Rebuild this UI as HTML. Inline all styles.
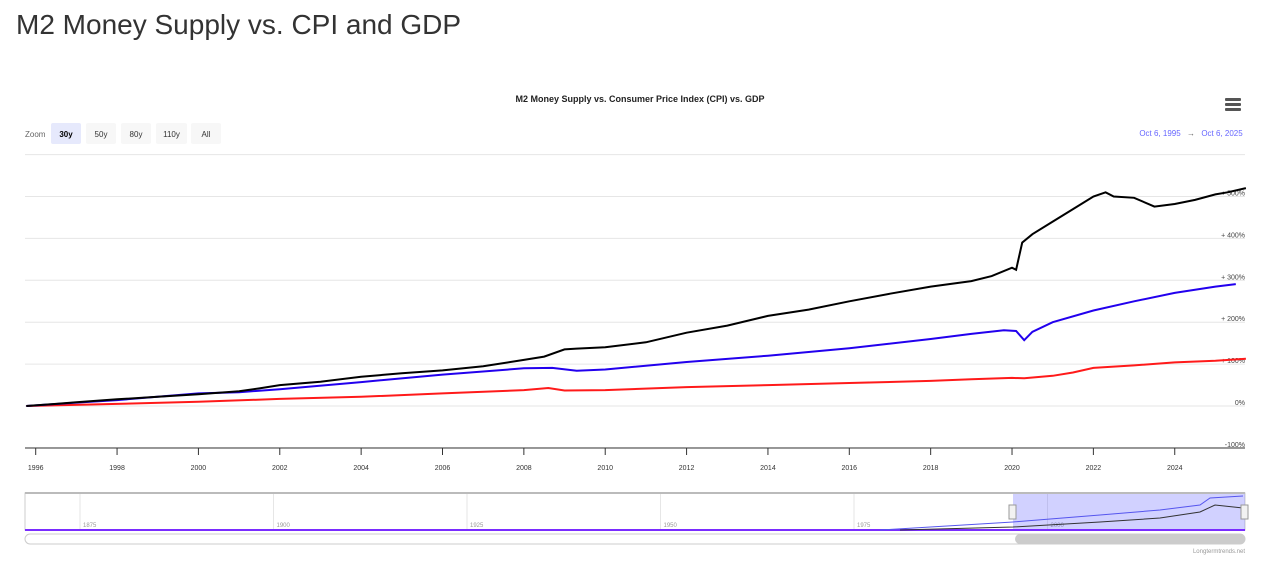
<!DOCTYPE html>
<html><head><meta charset="utf-8">
<style>
body{margin:0;background:#fff;font-family:"Liberation Sans",sans-serif;}
h1{position:absolute;left:16px;top:9px;margin:0;font-size:28px;font-weight:normal;color:#333;}
</style></head>
<body>
<h1>M2 Money Supply vs. CPI and GDP</h1>
<svg id="c" width="1280" height="571" style="position:absolute;left:0;top:0"></svg>
<script>
const blackYears=[1995.77,1996.5,1997,1998,1999,2000,2001,2001.5,2002,2003,2004,2005,2006,2007,2008,2008.5,2009,2009.3,2010,2011,2012,2013,2014,2015,2016,2017,2018,2019,2019.5,2020.0,2020.1,2020.25,2020.5,2021,2021.5,2022,2022.3,2022.5,2023,2023.5,2024,2024.5,2025,2025.3,2025.75];
const blackVals=[0,5,9,16,22,28,35,42,50,58,70,78,85,95,110,118,135,137,140,152,175,192,215,230,250,268,285,298,310,330,325,390,410,440,470,500,510,500,497,476,482,492,505,510,520];
const blueYears=[1995.77,1997,1998,2000,2001,2002,2004,2006,2008,2008.7,2009.3,2010,2012,2014,2016,2018,2019,2019.8,2020.1,2020.3,2020.5,2021,2022,2023,2024,2025,2025.5];
const blueVals=[0,8,14,30,33,40,57,75,90,91,84,87,105,120,138,160,172,181,179,157,177,200,228,250,270,285,291];
const redYears=[1995.77,1998,2000,2002,2004,2006,2008,2008.6,2009,2010,2012,2014,2016,2018,2019,2020,2020.3,2021,2021.5,2022,2023,2024,2025,2025.75];
const redVals=[0,5,10,17,22,30,38,43,37,38,45,50,55,60,64,67,66,72,80,91,97,104,108,113];
const yTicks=[-100,0,100,200,300,400,500,600];
const yLabels=["-100%","0%","+ 100%","+ 200%","+ 300%","+ 400%","+ 500%",""];
const xTicks=[1996,1998,2000,2002,2004,2006,2008,2010,2012,2014,2016,2018,2020,2022,2024];
const navTicks=[1875,1900,1925,1950,1975,2000];

const NS="http://www.w3.org/2000/svg",svg=document.getElementById('c');
function el(t,a,p){const e=document.createElementNS(NS,t);for(const k in a)e.setAttribute(k,a[k]);(p||svg).appendChild(e);return e;}
const xs=y=>35.7+(y-1996)*40.68, ys=v=>406-v*0.419;
function txt(x,y,s,a){const e=el('text',Object.assign({x:x,y:y},a));e.textContent=s;return e;}
let t=txt(640,102,"M2 Money Supply vs. Consumer Price Index (CPI) vs. GDP",{'text-anchor':'middle','font-size':9,'font-weight':'bold',fill:'#222'});


const m=el('g',{});


[99,104,109].forEach(y=>el('rect',{x:1225,y:y-1,width:16,height:3,fill:'#555',rx:1},m));
t=txt(25,137,"Zoom",{'font-size':8,fill:'#666'});


[["30y",51,30],["50y",86,30],["80y",121,30],["110y",156,31],["All",191,30]].forEach((b,i)=>{
 const g=el('g',{});
 
 
 el('rect',{x:b[1],y:123,width:b[2],height:21,fill:i==0?'#e6e9fc':'#f7f7f7',rx:2},g);
 txt(b[1]+b[2]/2,137,b[0],{'text-anchor':'middle','font-size':8,fill:i==0?'#000':'#333','font-weight':i==0?'bold':'normal'});
 g.appendChild(svg.lastChild);
});
t=txt(1160,136,"Oct 6, 1995",{'text-anchor':'middle','font-size':8,fill:'#6666ff'});


txt(1191,136,"→",{'text-anchor':'middle','font-size':8,fill:'#666'});
t=txt(1222,136,"Oct 6, 2025",{'text-anchor':'middle','font-size':8,fill:'#6666ff'});


yTicks.forEach((v,i)=>{
 const l=el('line',{x1:25,x2:1245,y1:ys(v),y2:ys(v),stroke:'#e6e6e6'});
 
 
 if(yLabels[i]){const tt=txt(1245,ys(v)-1,yLabels[i],{'text-anchor':'end','font-size':7,fill:'#444'});
 
 }
});
el('line',{x1:25,x2:1245,y1:448,y2:448,stroke:'#333'});
xTicks.forEach(y=>{
 el('line',{x1:xs(y),x2:xs(y),y1:448,y2:455,stroke:'#333'});
 const tt=txt(xs(y),470,String(y),{'text-anchor':'middle','font-size':7,fill:'#333'});
 
 
});
function line(X,V,c,n){const p=el('path',{d:X.map((x,i)=>(i?'L':'M')+xs(x).toFixed(1)+','+ys(V[i]).toFixed(1)).join(''),fill:'none',stroke:c,'stroke-width':2});
 
 }
line(redYears,redVals,'#ff1a1a','cpi-line');
line(blueYears,blueVals,'#2200ee','gdp-line');
line(blackYears,blackVals,'#000','m2-line');
const nv=el('g',{});


el('rect',{x:25,y:493,width:1220,height:37,fill:'#fff',stroke:'#ccc'},nv);
el('line',{x1:25,x2:1245,y1:493,y2:493,stroke:'#bbb','stroke-width':2},nv);
const nx=y=>80+(y-1875)*(193.5/25);
navTicks.forEach(y=>{el('line',{x1:nx(y),x2:nx(y),y1:494,y2:530,stroke:'#e6e6e6'},nv);txt(nx(y)+3,527,String(y),{'font-size':6,fill:'#999'});nv.appendChild(svg.lastChild);});
el('rect',{x:1013,y:494,width:232,height:36,fill:'rgba(102,102,255,0.3)'},nv);
el('line',{x1:25,x2:1245,y1:530,y2:530,stroke:'#7a2cff','stroke-width':2},nv);
el('path',{d:'M880,530 L1013,522 L1100,515 L1160,510 L1200,505 L1210,498 L1243,496',fill:'none',stroke:'#5555ee','stroke-width':1},nv);
el('path',{d:'M900,530 L1013,527 L1100,522 L1160,518 L1200,512 L1215,505 L1243,508',fill:'none',stroke:'#333','stroke-width':1},nv);
[1013,1245].forEach(x=>el('rect',{x:x-4,y:505,width:7,height:14,fill:'#f2f2f2',stroke:'#999'},nv));
const sb=el('g',{});


el('rect',{x:25,y:534,width:1220,height:10,rx:5,fill:'#fff',stroke:'#ccc'},sb);
el('rect',{x:1015,y:534,width:230,height:10,rx:5,fill:'#ccc'},sb);
t=txt(1245,553,"Longtermtrends.net",{'text-anchor':'end','font-size':6,fill:'#999'});


</script>
</body></html>
